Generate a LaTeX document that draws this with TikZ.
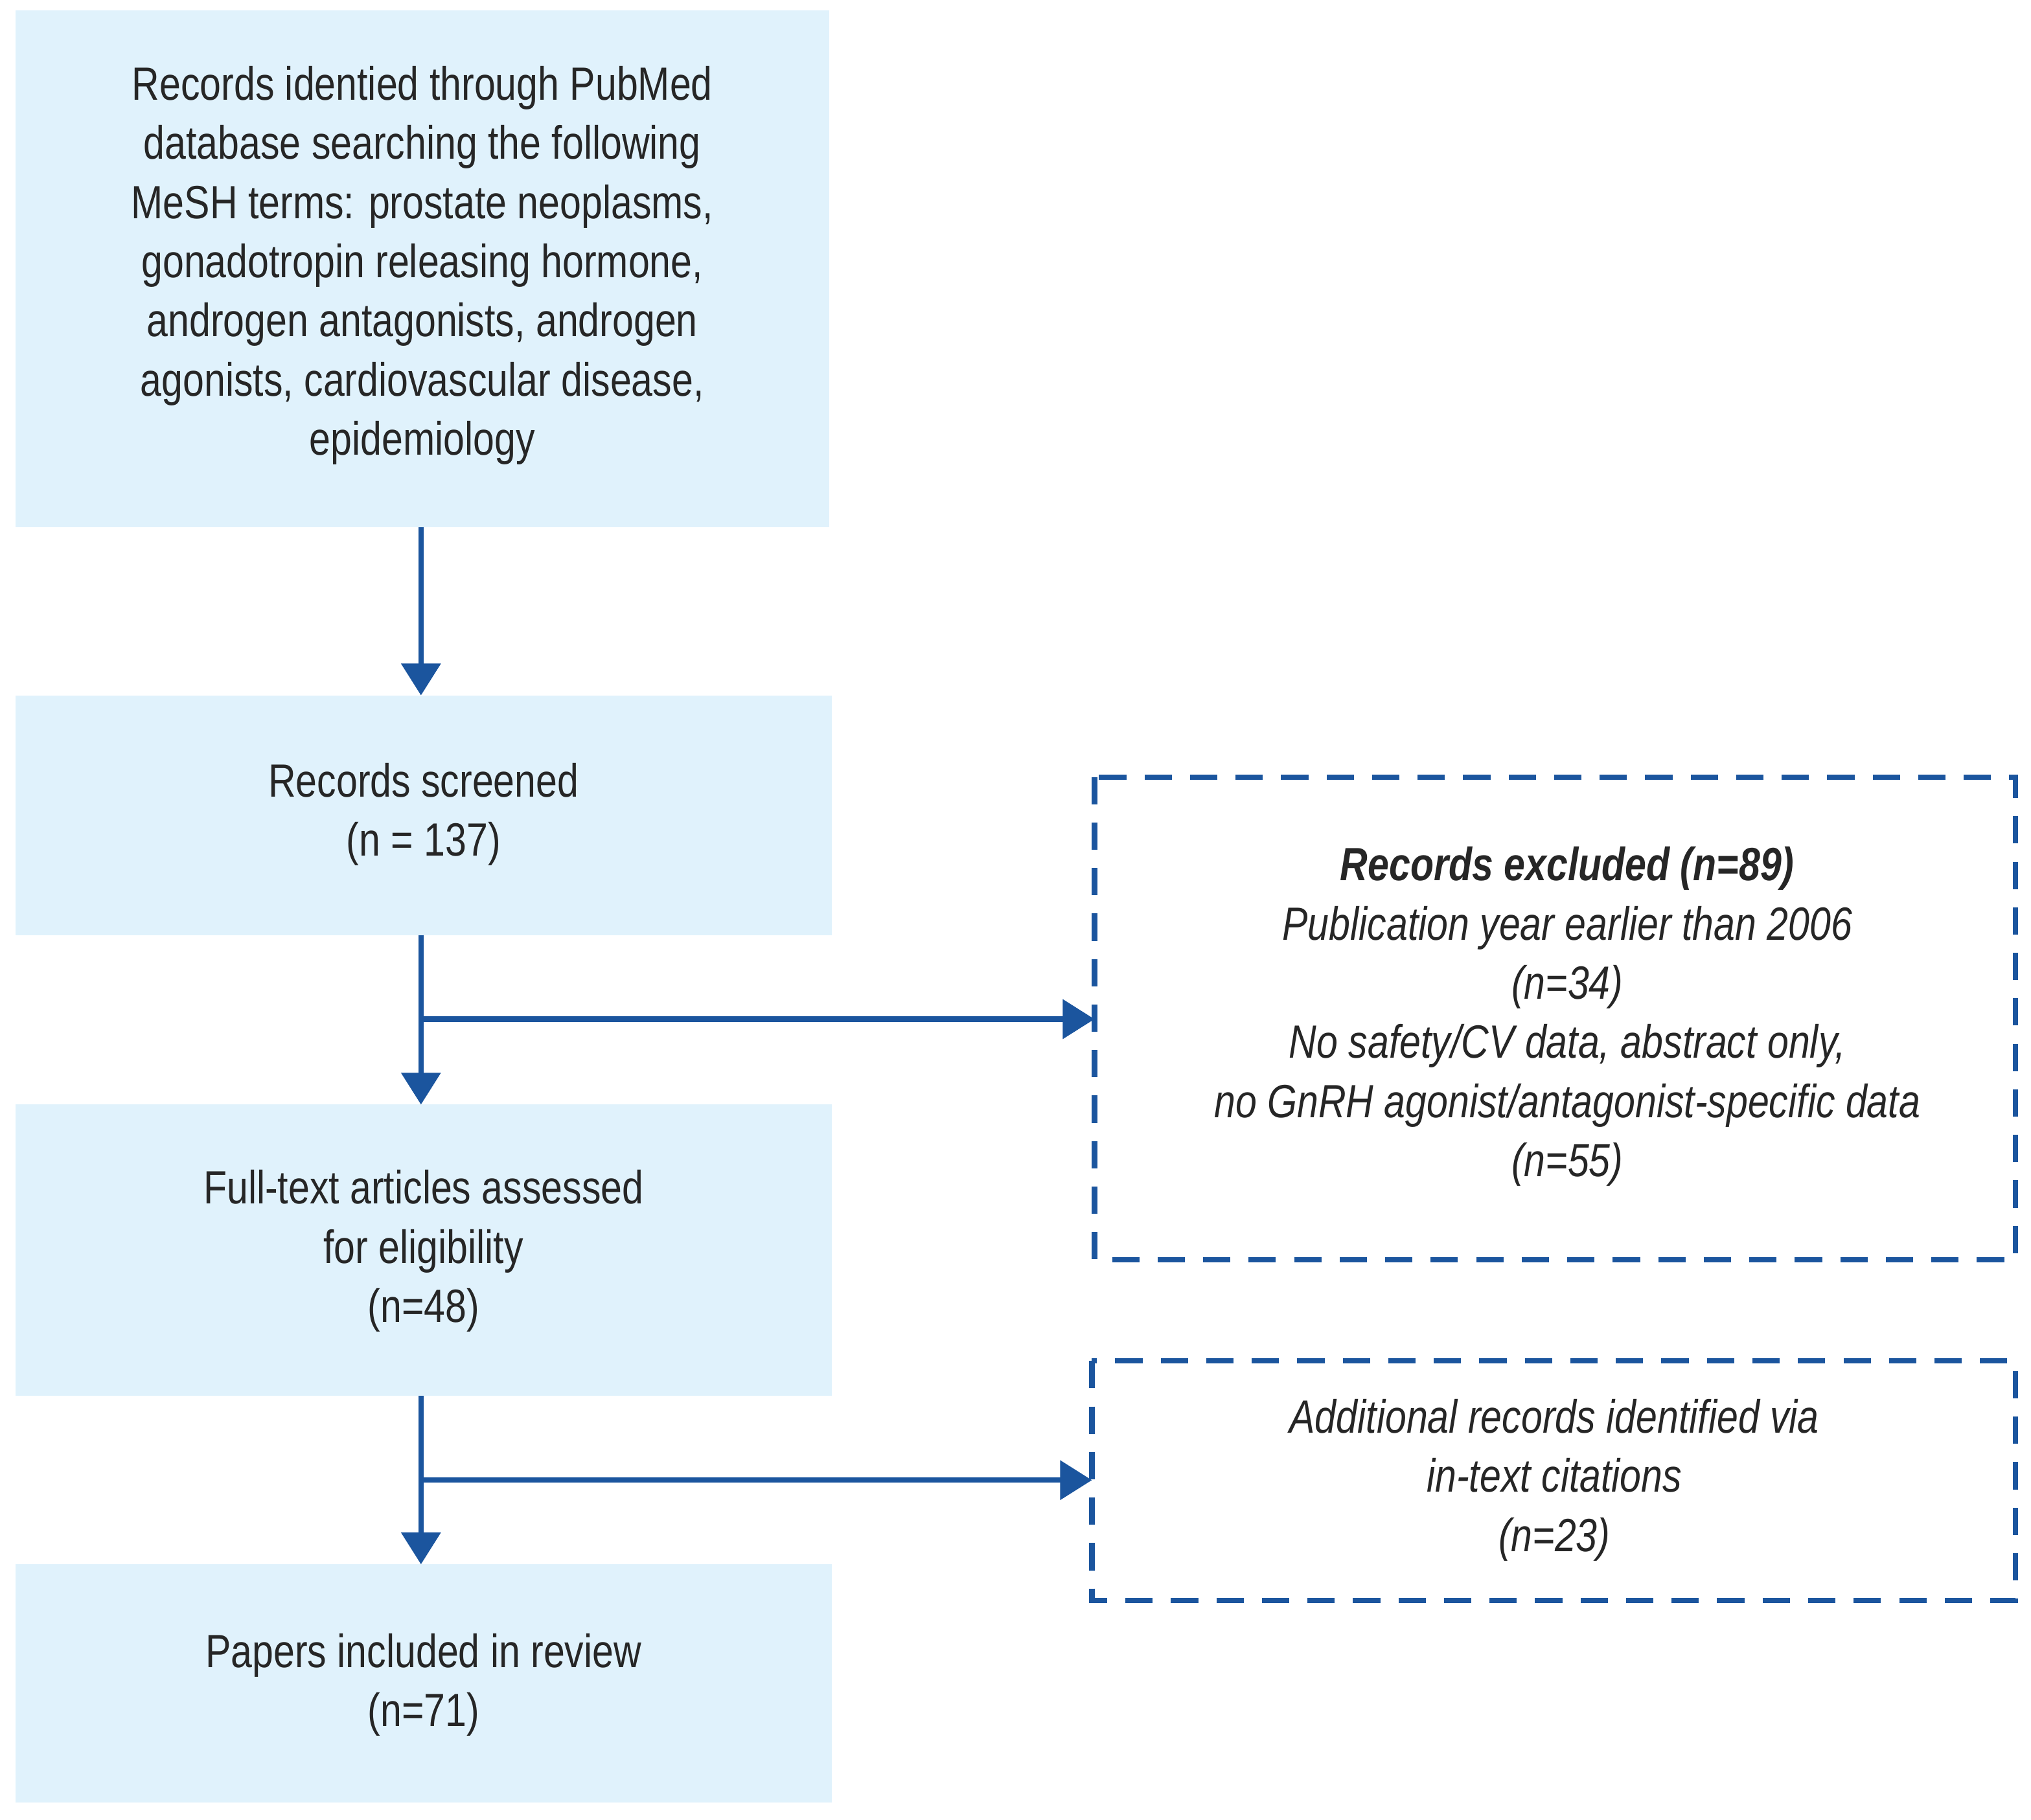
\documentclass[tikz,border=0pt]{standalone}
\usepackage{fontspec}
\setmainfont{Liberation Sans}[FakeStretch=0.82]
\usetikzlibrary{arrows.meta}
\definecolor{bfill}{HTML}{E0F2FC}
\definecolor{bline}{HTML}{1B559E}
\begin{document}
\begin{tikzpicture}[x=0.02cm,y=-0.02cm,
  box/.style={fill=bfill,draw=none,align=center,font=\fontsize{20.5}{26}\selectfont,text=black!85},
  dbox/.style={draw=bline,line width=2.3pt,dash pattern=on 12pt off 8pt,align=center,font=\fontsize{20.5}{26}\selectfont\itshape,text=black!85},
  arr/.style={draw=bline,line width=2.3pt,-{Triangle[length=14pt,width=17pt]}}]
\useasboundingbox (0,0) rectangle (1568,1405);
\path[box] (12,8) rectangle (640,407);
\node[box,fill=none] (t1) at (326,205) {Records identied through PubMed\\database searching the following\\MeSH terms: prostate neoplasms,\\gonadotropin releasing hormone,\\androgen antagonists, androgen\\agonists, cardiovascular disease,\\epidemiology};
\path[box] (12,537) rectangle (642,722);
\node[box,fill=none] at (327,629) {Records screened\\(n = 137)};
\path[box] (12,853) rectangle (642,1078);
\node[box,fill=none] at (327,966) {Full-text articles assessed\\for eligibility\\(n=48)};
\path[box] (12,1208) rectangle (642,1392);
\node[box,fill=none] at (327,1301) {Papers included in review\\(n=71)};
\draw[dbox] (845,600) rectangle (1556,973);
\node[dbox,draw=none] at (1210,785) {{\bfseries Records excluded (n=89)}\\Publication year earlier than 2006\\(n=34)\\No safety/CV data, abstract only,\\no GnRH agonist/antagonist-specific data\\(n=55)};
\draw[dbox] (843,1051) rectangle (1556,1236);
\node[dbox,draw=none] at (1200,1143) {Additional records identified via\\in-text citations\\(n=23)};
\coordinate (a1) at (325,407); \coordinate (a2) at (325,537);
\coordinate (b1) at (325,722); \coordinate (b2) at (325,853);
\coordinate (c1) at (325,1078); \coordinate (c2) at (325,1208);
\coordinate (bm) at (325,787); \coordinate (be) at (845,787);
\coordinate (cm) at (325,1143); \coordinate (ce) at (843,1143);
\draw[arr] (a1) -- (a2);
\draw[arr] (b1) -- (b2);
\draw[arr] (c1) -- (c2);
\draw[arr] (bm) -- (be);
\draw[arr] (cm) -- (ce);
\end{tikzpicture}
\end{document}
